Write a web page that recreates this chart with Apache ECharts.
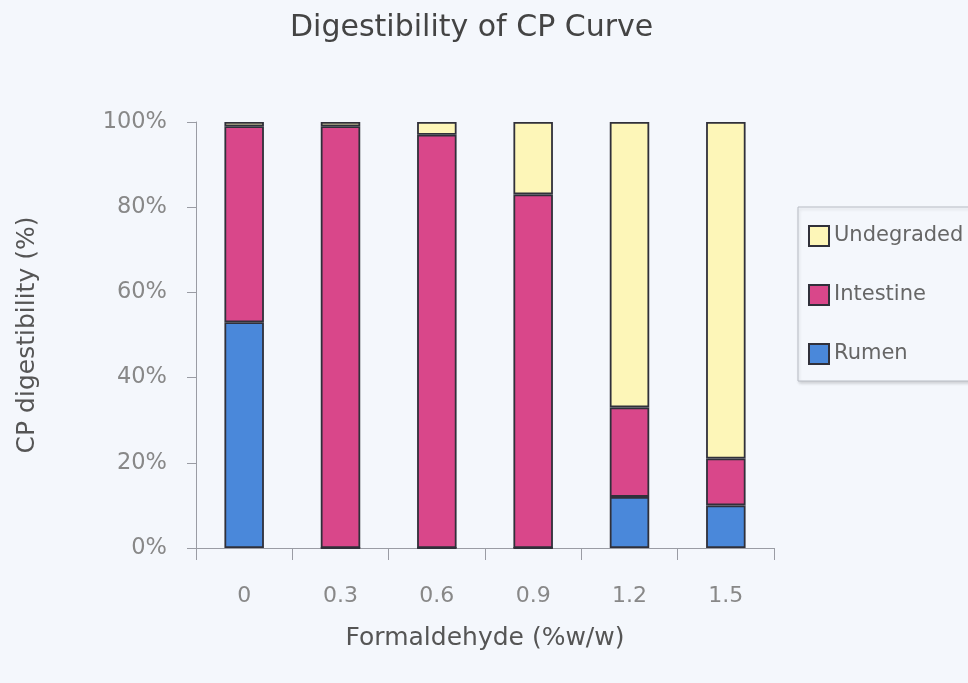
<!DOCTYPE html>
<html>
<head>
<meta charset="utf-8">
<script src="https://cdn.jsdelivr.net/npm/echarts@6/dist/echarts.min.js"></script>
<style>
html,body{margin:0;padding:0;background:#f4f7fc;}
#main{width:968px;height:683px;}
</style>
</head>
<body>
<div id="main"></div>
<script>
const categories = ['0', '0.3', '0.6', '0.9', '1.2', '1.5'];
const rumen = [53, 0, 0, 0, 12, 10];
const intestine = [46, 99, 97, 83, 21, 11];
const undegraded = [1, 1, 3, 17, 67, 79];
const yTicks = [0, 20, 40, 60, 80, 100];

const FONT = 'DejaVu Sans';
const chart = echarts.init(document.getElementById('main'));
const border = { borderColor: '#30303a', borderWidth: 1.8 };

chart.setOption({
  backgroundColor: '#f4f7fc',
  animation: false,
  title: {
    text: 'Digestibility of CP Curve',
    left: 285,
    top: 8,
    textStyle: { fontFamily: FONT, fontSize: 30, fontWeight: 'normal', color: '#444' }
  },
  legend: {
    orient: 'vertical',
    left: 798,
    top: 207,
    icon: 'rect',
    data: ['Undegraded', 'Intestine', 'Rumen'],
    itemWidth: 20,
    itemHeight: 20,
    itemGap: 37,
    padding: [18, 60, 16, 10],
    backgroundColor: '#f4f7fc',
    borderColor: '#b8bcc4',
    borderWidth: 1,
    shadowColor: 'rgba(0,0,0,0.15)',
    shadowBlur: 3,
    shadowOffsetX: 1,
    shadowOffsetY: 2,
    textStyle: { fontFamily: FONT, fontSize: 21, color: '#666' }
  },
  grid: { left: 196, right: 194, top: 122, bottom: 135 },
  xAxis: {
    type: 'category',
    data: categories,
    name: 'Formaldehyde (%w/w)',
    nameLocation: 'middle',
    nameGap: 78,
    nameTextStyle: { fontFamily: FONT, fontSize: 25, color: '#555' },
    axisLine: { lineStyle: { color: '#9a9ca4', width: 1 } },
    axisTick: { show: true, length: 12, lineStyle: { color: '#9a9ca4' } },
    axisLabel: { margin: 37, fontFamily: FONT, fontSize: 22, color: '#888' }
  },
  yAxis: {
    type: 'value',
    min: 0,
    max: 100,
    interval: 20,
    name: 'CP digestibility (%)',
    nameLocation: 'middle',
    nameGap: 156,
    nameTextStyle: { fontFamily: FONT, fontSize: 25, color: '#555' },
    axisLine: { show: true, lineStyle: { color: '#9a9ca4', width: 1 } },
    axisTick: { show: true, length: 9, lineStyle: { color: '#9a9ca4' } },
    splitLine: { show: false },
    axisLabel: {
      margin: 29, fontFamily: FONT, fontSize: 22.5, color: '#888',
      formatter: function (v) { return yTicks.indexOf(v) >= 0 ? v + '%' : ''; }
    }
  },
  series: [
    { name: 'Rumen', type: 'bar', stack: 'cp', barWidth: '41%', data: rumen,
      itemStyle: Object.assign({ color: '#4a88da' }, border) },
    { name: 'Intestine', type: 'bar', stack: 'cp', data: intestine,
      itemStyle: Object.assign({ color: '#d9478a' }, border) },
    { name: 'Undegraded', type: 'bar', stack: 'cp', data: undegraded,
      itemStyle: Object.assign({ color: '#fdf6b8' }, border) }
  ]
});
</script>
</body>
</html>
